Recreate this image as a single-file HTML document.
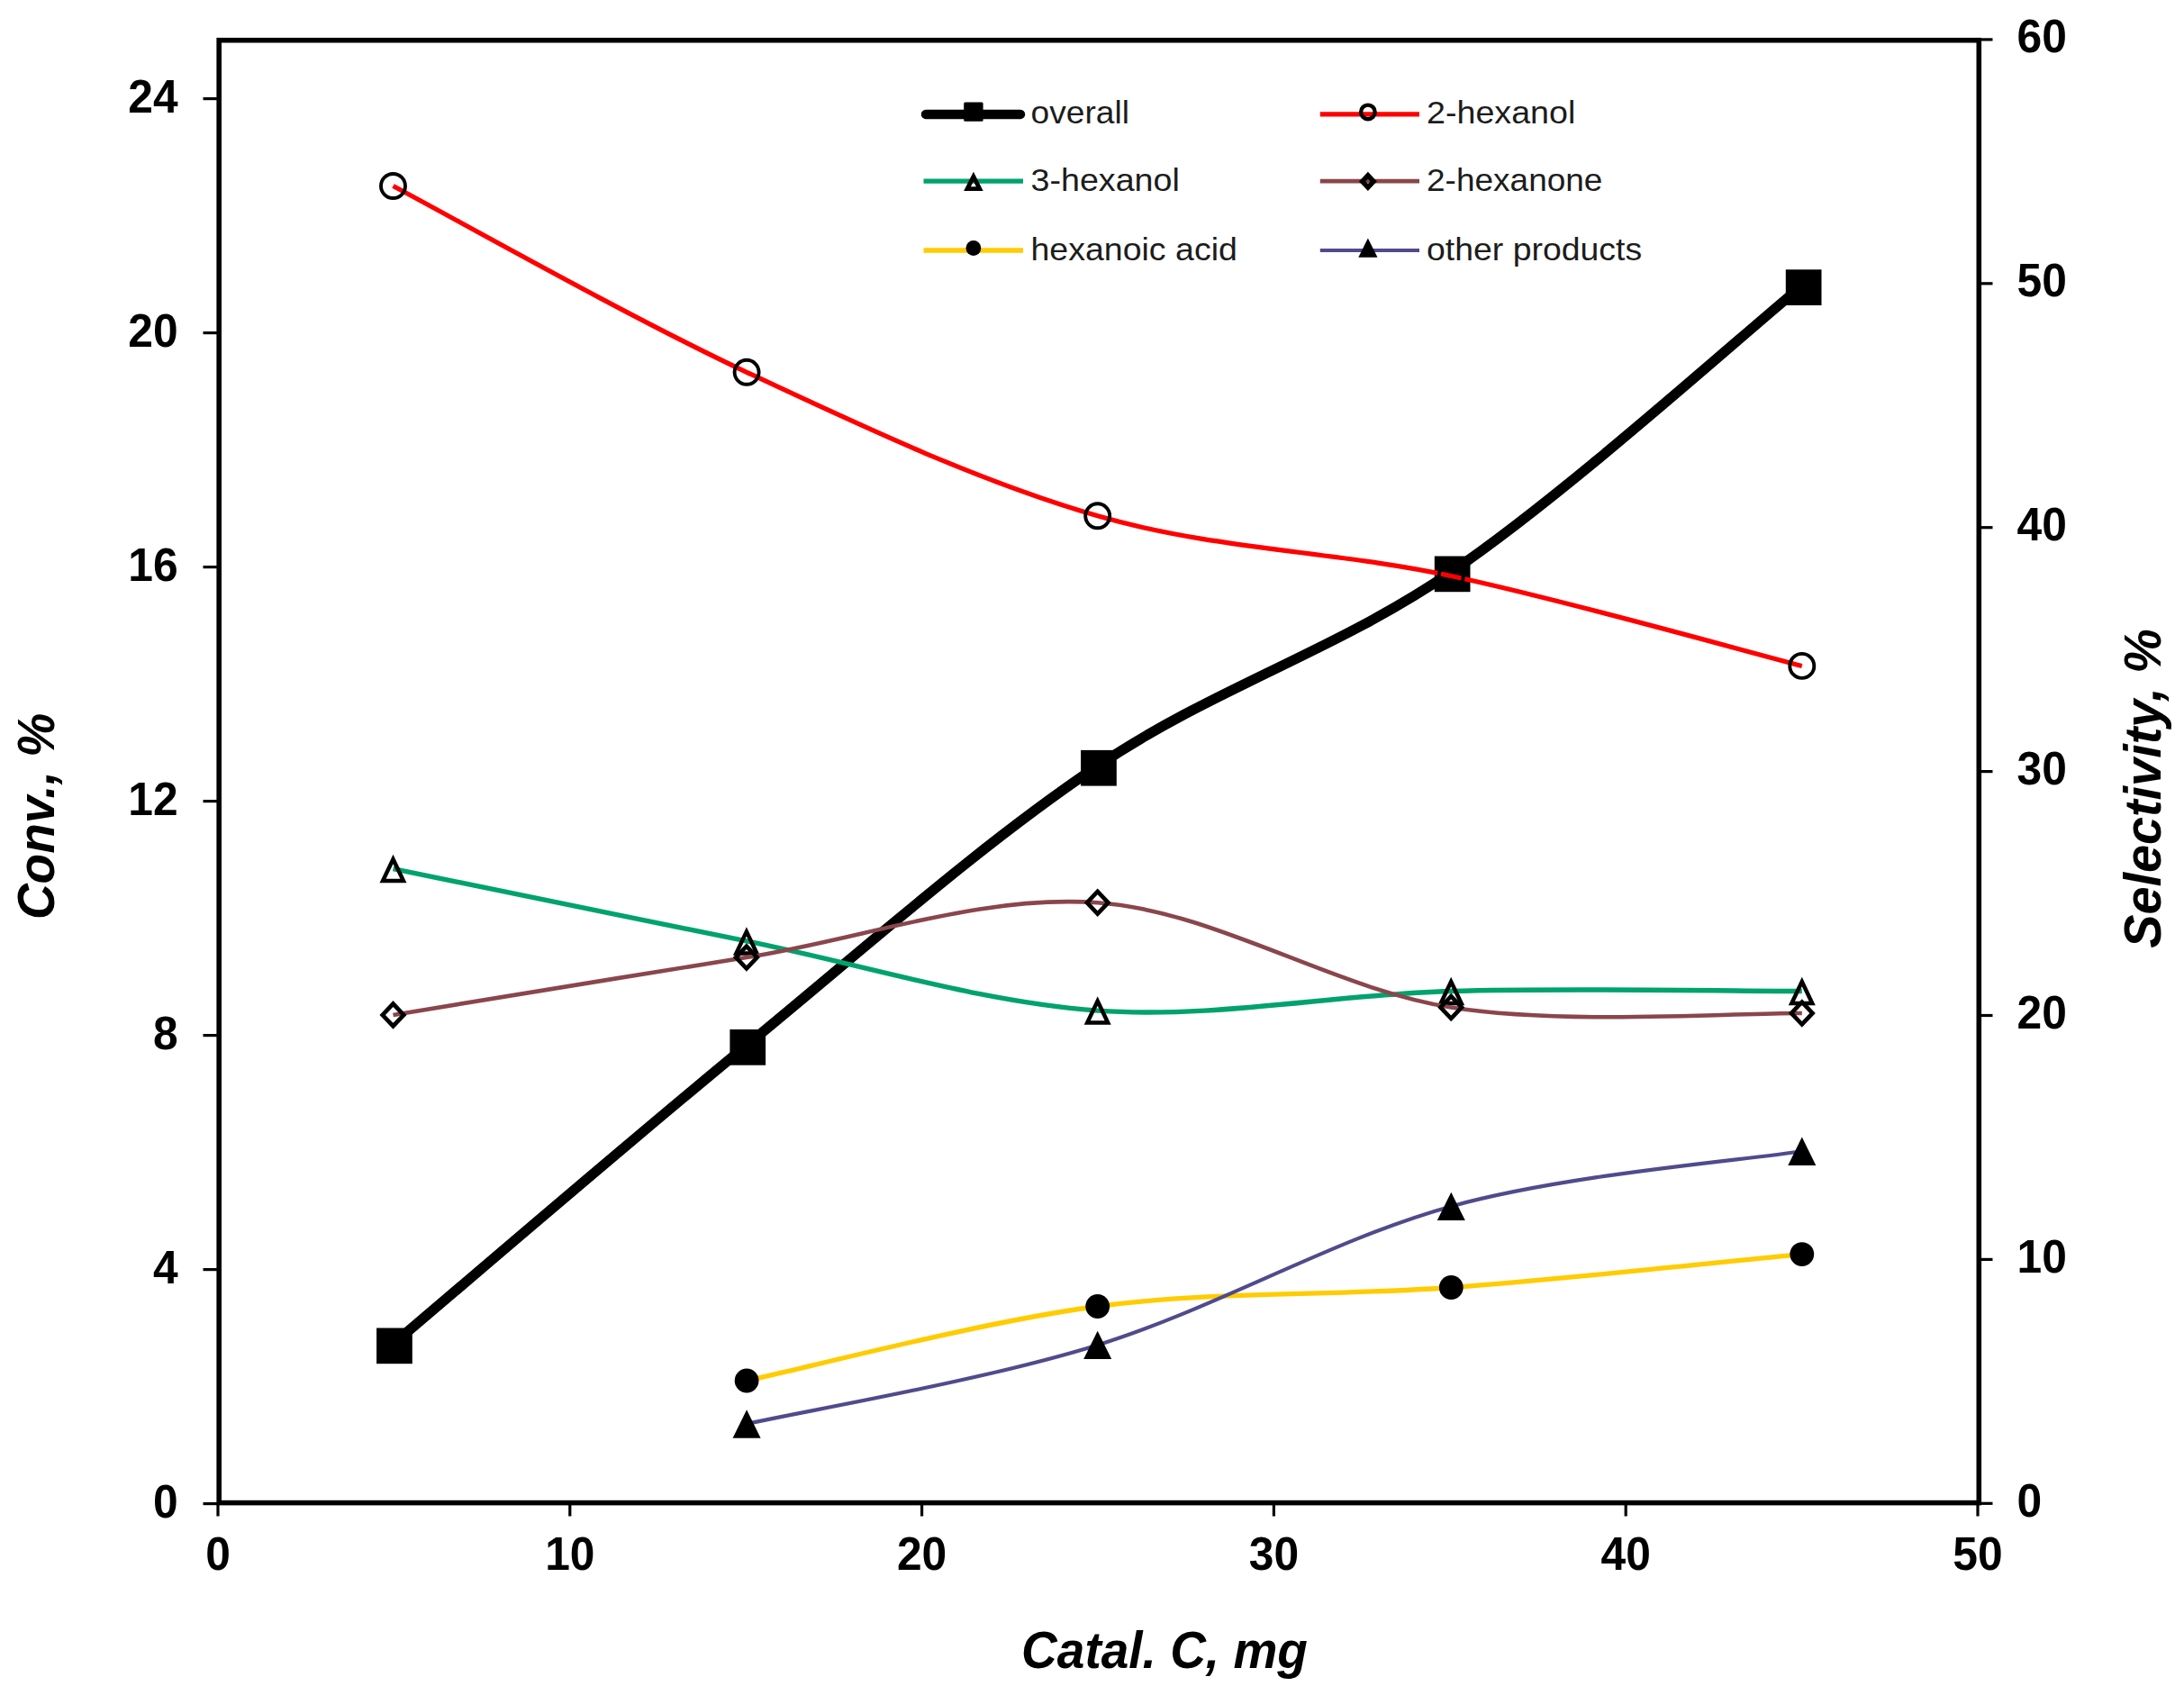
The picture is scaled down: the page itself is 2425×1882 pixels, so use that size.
<!DOCTYPE html>
<html lang="en"><head><meta charset="utf-8"><title>Conversion and selectivity vs catalyst amount</title>
<style>
html,body{margin:0;padding:0;background:#fff;}
body{width:2425px;height:1882px;overflow:hidden;}
svg{display:block;}
text{font-family:"Liberation Sans",sans-serif;}
.tick{font-weight:bold;font-size:50.5px;fill:#000;}
.title{font-weight:bold;font-style:italic;font-size:55px;fill:#000;}
.leg{font-size:36.5px;fill:#1c1c1c;}
</style></head><body>
<svg width="2425" height="1882" viewBox="0 0 2425 1882">
<rect width="2425" height="1882" fill="#fff"/>
<g stroke="#000" stroke-width="3.2" fill="none">
<line x1="225.5" y1="1669.6" x2="243.2" y2="1669.6"/>
<line x1="225.5" y1="1409.6" x2="243.2" y2="1409.6"/>
<line x1="225.5" y1="1149.6" x2="243.2" y2="1149.6"/>
<line x1="225.5" y1="889.6" x2="243.2" y2="889.6"/>
<line x1="225.5" y1="629.6" x2="243.2" y2="629.6"/>
<line x1="225.5" y1="369.6" x2="243.2" y2="369.6"/>
<line x1="225.5" y1="109.6" x2="243.2" y2="109.6"/>
<line x1="2197.3" y1="1669.3" x2="2212.5" y2="1669.3"/>
<line x1="2197.3" y1="1398.4" x2="2212.5" y2="1398.4"/>
<line x1="2197.3" y1="1127.5" x2="2212.5" y2="1127.5"/>
<line x1="2197.3" y1="856.6" x2="2212.5" y2="856.6"/>
<line x1="2197.3" y1="585.7" x2="2212.5" y2="585.7"/>
<line x1="2197.3" y1="314.8" x2="2212.5" y2="314.8"/>
<line x1="2197.3" y1="43.9" x2="2212.5" y2="43.9"/>
<line x1="242.0" y1="1668.6" x2="242.0" y2="1683.5"/>
<line x1="632.8" y1="1668.6" x2="632.8" y2="1683.5"/>
<line x1="1023.6" y1="1668.6" x2="1023.6" y2="1683.5"/>
<line x1="1414.4" y1="1668.6" x2="1414.4" y2="1683.5"/>
<line x1="1805.2" y1="1668.6" x2="1805.2" y2="1683.5"/>
<line x1="2196.0" y1="1668.6" x2="2196.0" y2="1683.5"/>
</g>
<rect x="243.2" y="44.7" width="1954.1" height="1623.9" fill="none" stroke="#000" stroke-width="5.6"/>
<path d="M436.7,1492.1 C502.1,1436.8 698.7,1267.5 829.0,1160.6 C959.3,1053.7 1088.2,938.1 1218.6,850.5 C1349.0,762.9 1480.8,724.1 1611.3,635.2 C1741.8,546.3 1936.3,370.0 2001.3,317.0" fill="none" stroke="#000" stroke-width="11.2" stroke-linejoin="round"/>
<rect x="418.1" y="1474.5" width="39.7" height="39.7" fill="#000"/>
<rect x="810.4" y="1143.0" width="39.7" height="39.7" fill="#000"/>
<rect x="1200.1" y="832.9" width="39.7" height="39.7" fill="#000"/>
<rect x="1592.8" y="617.5" width="39.7" height="39.7" fill="#000"/>
<rect x="1982.8" y="299.3" width="39.7" height="39.7" fill="#000"/>
<path d="M436.5,206.5 C501.9,241.0 698.7,352.2 829.1,413.3 C959.5,474.4 1088.3,535.1 1218.7,572.8 C1349.1,610.5 1481.0,611.7 1611.3,639.5 C1741.6,667.3 1935.9,722.8 2000.8,739.4" fill="none" stroke="#ff0000" stroke-width="5.2" stroke-linejoin="round"/>
<circle cx="436.5" cy="206.5" r="13.5" fill="none" stroke="#000" stroke-width="3.9"/>
<circle cx="829.1" cy="413.3" r="13.5" fill="none" stroke="#000" stroke-width="3.9"/>
<circle cx="1218.7" cy="572.8" r="13.5" fill="none" stroke="#000" stroke-width="3.9"/>
<circle cx="1611.3" cy="639.5" r="13.5" fill="none" stroke="#000" stroke-width="3.9"/>
<circle cx="2000.8" cy="739.4" r="13.5" fill="none" stroke="#000" stroke-width="3.9"/>
<path d="M436.5,964.6 C501.9,978.0 698.5,1018.7 828.9,1044.9 C959.3,1071.2 1088.3,1112.8 1218.7,1122.1 C1349.1,1131.4 1480.9,1104.1 1611.2,1100.5 C1741.5,1096.9 1935.9,1100.5 2000.8,1100.5" fill="none" stroke="#00a26e" stroke-width="5.4" stroke-linejoin="round"/>
<path fill-rule="evenodd" fill="#000" d="M436.5,948.85 L451.5,980.35 L421.5,980.35 Z M436.5,959.32 L428.63,975.85 L444.37,975.85 Z"/>
<path fill-rule="evenodd" fill="#000" d="M828.9,1029.15 L843.9,1060.65 L813.9,1060.65 Z M828.9,1039.62 L821.03,1056.15 L836.77,1056.15 Z"/>
<path fill-rule="evenodd" fill="#000" d="M1218.7,1106.35 L1233.7,1137.85 L1203.7,1137.85 Z M1218.7,1116.82 L1210.83,1133.35 L1226.57,1133.35 Z"/>
<path fill-rule="evenodd" fill="#000" d="M1611.2,1084.75 L1626.2,1116.25 L1596.2,1116.25 Z M1611.2,1095.22 L1603.33,1111.75 L1619.07,1111.75 Z"/>
<path fill-rule="evenodd" fill="#000" d="M2000.8,1084.75 L2015.8,1116.25 L1985.8,1116.25 Z M2000.8,1095.22 L1992.93,1111.75 L2008.67,1111.75 Z"/>
<path d="M436.5,1126.9 C501.9,1116.2 698.5,1083.8 828.9,1063.0 C959.3,1042.2 1088.3,993.0 1218.7,1002.2 C1349.1,1011.5 1480.9,1098.0 1611.2,1118.5 C1741.5,1139.0 1935.9,1123.9 2000.8,1125.0" fill="none" stroke="#8a464c" stroke-width="4.6" stroke-linejoin="round"/>
<path fill-rule="evenodd" fill="#000" d="M436.5,1111.1000000000001 L451.5,1126.9 L436.5,1142.7 L421.5,1126.9 Z M436.5,1117.93 L427.98,1126.9 L436.5,1135.87 L445.02,1126.9 Z"/>
<path fill-rule="evenodd" fill="#000" d="M828.9,1047.2 L843.9,1063 L828.9,1078.8 L813.9,1063 Z M828.9,1054.03 L820.38,1063 L828.9,1071.97 L837.42,1063 Z"/>
<path fill-rule="evenodd" fill="#000" d="M1218.7,986.4000000000001 L1233.7,1002.2 L1218.7,1018.0 L1203.7,1002.2 Z M1218.7,993.23 L1210.18,1002.2 L1218.7,1011.17 L1227.22,1002.2 Z"/>
<path fill-rule="evenodd" fill="#000" d="M1611.2,1102.7 L1626.2,1118.5 L1611.2,1134.3 L1596.2,1118.5 Z M1611.2,1109.53 L1602.68,1118.5 L1611.2,1127.47 L1619.72,1118.5 Z"/>
<path fill-rule="evenodd" fill="#000" d="M2000.8,1109.2 L2015.8,1125 L2000.8,1140.8 L1985.8,1125 Z M2000.8,1116.03 L1992.28,1125 L2000.8,1133.97 L2009.32,1125 Z"/>
<path d="M829.1,1533.0 C894.0,1519.2 1088.3,1467.8 1218.7,1450.5 C1349.1,1433.2 1481.0,1439.2 1611.3,1429.5 C1741.6,1419.8 1935.9,1398.8 2000.8,1392.6" fill="none" stroke="#ffcc00" stroke-width="5.3" stroke-linejoin="round"/>
<circle cx="829.1" cy="1533" r="13.4" fill="#000"/>
<circle cx="1218.7" cy="1450.5" r="13.4" fill="#000"/>
<circle cx="1611.3" cy="1429.5" r="13.4" fill="#000"/>
<circle cx="2000.8" cy="1392.6" r="13.4" fill="#000"/>
<path d="M829.1,1581.0 C894.0,1566.4 1088.3,1533.7 1218.7,1493.4 C1349.1,1453.1 1481.0,1375.3 1611.3,1339.4 C1741.6,1303.5 1935.9,1288.4 2000.8,1278.2" fill="none" stroke="#504b8c" stroke-width="4.2" stroke-linejoin="round"/>
<path d="M829.1,1565.3 L844.6,1596.7 L813.6,1596.7 Z" fill="#000"/>
<path d="M1218.7,1477.7 L1234.2,1509.1000000000001 L1203.2,1509.1000000000001 Z" fill="#000"/>
<path d="M1611.3,1323.7 L1626.8,1355.1000000000001 L1595.8,1355.1000000000001 Z" fill="#000"/>
<path d="M2000.8,1262.5 L2016.3,1293.9 L1985.3,1293.9 Z" fill="#000"/>
<line x1="1028" y1="126.9" x2="1133" y2="126.9" stroke="#000" stroke-width="10.5" stroke-linecap="round"/>
<rect x="1070.2" y="113.4" width="21.4" height="21.4" rx="1.5" fill="#000"/>
<text class="leg" transform="translate(1144.5,137.0) scale(1.019,0.975)">overall</text>
<line x1="1025.5" y1="201.1" x2="1136" y2="201.1" stroke="#00a26e" stroke-width="5.4"/>
<path fill-rule="evenodd" fill="#000" d="M1080.9,190.8 L1091.7,212.0 L1070.1000000000001,212.0 Z M1080.9,201.37 L1077.93,207.20 L1083.87,207.20 Z"/>
<text class="leg" transform="translate(1144.5,212.0) scale(1.032,0.975)">3-hexanol</text>
<line x1="1025.5" y1="278.0" x2="1136" y2="278.0" stroke="#ffcc00" stroke-width="5.3"/>
<circle cx="1080.9" cy="275.5" r="8.4" fill="#000"/>
<text class="leg" transform="translate(1144.5,289.0) scale(1.028,0.975)">hexanoic acid</text>
<line x1="1465.8" y1="126.9" x2="1576" y2="126.9" stroke="#ff0000" stroke-width="5.2"/>
<circle cx="1518.9" cy="124.4" r="7.8" fill="none" stroke="#000" stroke-width="4.4"/>
<text class="leg" transform="translate(1584,137.0) scale(1.032,0.975)">2-hexanol</text>
<line x1="1465.8" y1="201.1" x2="1576" y2="201.1" stroke="#8a464c" stroke-width="4.6"/>
<path fill-rule="evenodd" fill="#000" d="M1518.9,190.8 L1528.9,201.4 L1518.9,212.0 L1508.9,201.4 Z M1518.9,198.67 L1516.32,201.4 L1518.9,204.13 L1521.48,201.4 Z"/>
<text class="leg" transform="translate(1584,212.0) scale(1.014,0.975)">2-hexanone</text>
<line x1="1465.8" y1="278.0" x2="1576" y2="278.0" stroke="#504b8c" stroke-width="4.2"/>
<path d="M1518.9,264.59999999999997 L1529.5,285.8 L1508.3000000000002,285.8 Z" fill="#000"/>
<text class="leg" transform="translate(1584,289.0) scale(1.025,0.975)">other products</text>
<text class="tick" text-anchor="end" transform="translate(197.6,1684.5) scale(0.985,1.04)">0</text>
<text class="tick" text-anchor="end" transform="translate(197.6,1424.5) scale(0.985,1.04)">4</text>
<text class="tick" text-anchor="end" transform="translate(197.6,1164.5) scale(0.985,1.04)">8</text>
<text class="tick" text-anchor="end" transform="translate(197.6,904.5) scale(0.985,1.04)">12</text>
<text class="tick" text-anchor="end" transform="translate(197.6,644.5) scale(0.985,1.04)">16</text>
<text class="tick" text-anchor="end" transform="translate(197.6,384.5) scale(0.985,1.04)">20</text>
<text class="tick" text-anchor="end" transform="translate(197.6,124.5) scale(0.985,1.04)">24</text>
<text class="tick" transform="translate(2239.6,1683.8) scale(0.985,1.04)">0</text>
<text class="tick" transform="translate(2239.6,1412.9) scale(0.985,1.04)">10</text>
<text class="tick" transform="translate(2239.6,1142.0) scale(0.985,1.04)">20</text>
<text class="tick" transform="translate(2239.6,871.1) scale(0.985,1.04)">30</text>
<text class="tick" transform="translate(2239.6,600.2) scale(0.985,1.04)">40</text>
<text class="tick" transform="translate(2239.6,329.3) scale(0.985,1.04)">50</text>
<text class="tick" transform="translate(2239.6,58.4) scale(0.985,1.04)">60</text>
<text class="tick" text-anchor="middle" transform="translate(242.0,1743.3) scale(0.985,1.04)">0</text>
<text class="tick" text-anchor="middle" transform="translate(632.8,1743.3) scale(0.985,1.04)">10</text>
<text class="tick" text-anchor="middle" transform="translate(1023.6,1743.3) scale(0.985,1.04)">20</text>
<text class="tick" text-anchor="middle" transform="translate(1414.4,1743.3) scale(0.985,1.04)">30</text>
<text class="tick" text-anchor="middle" transform="translate(1805.2,1743.3) scale(0.985,1.04)">40</text>
<text class="tick" text-anchor="middle" transform="translate(2196.0,1743.3) scale(0.985,1.04)">50</text>
<text class="title" text-anchor="middle" transform="translate(1293,1851.5) scale(1,1.04)">Catal. C, mg</text>
<text class="title" text-anchor="middle" transform="translate(60.3,906.5) rotate(-90) scale(1,1.04)">Conv., %</text>
<text class="title" style="font-size:55.8px" text-anchor="middle" transform="translate(2399,875.5) rotate(-90) scale(1,1.04)">Selectivity, %</text>
</svg></body></html>
